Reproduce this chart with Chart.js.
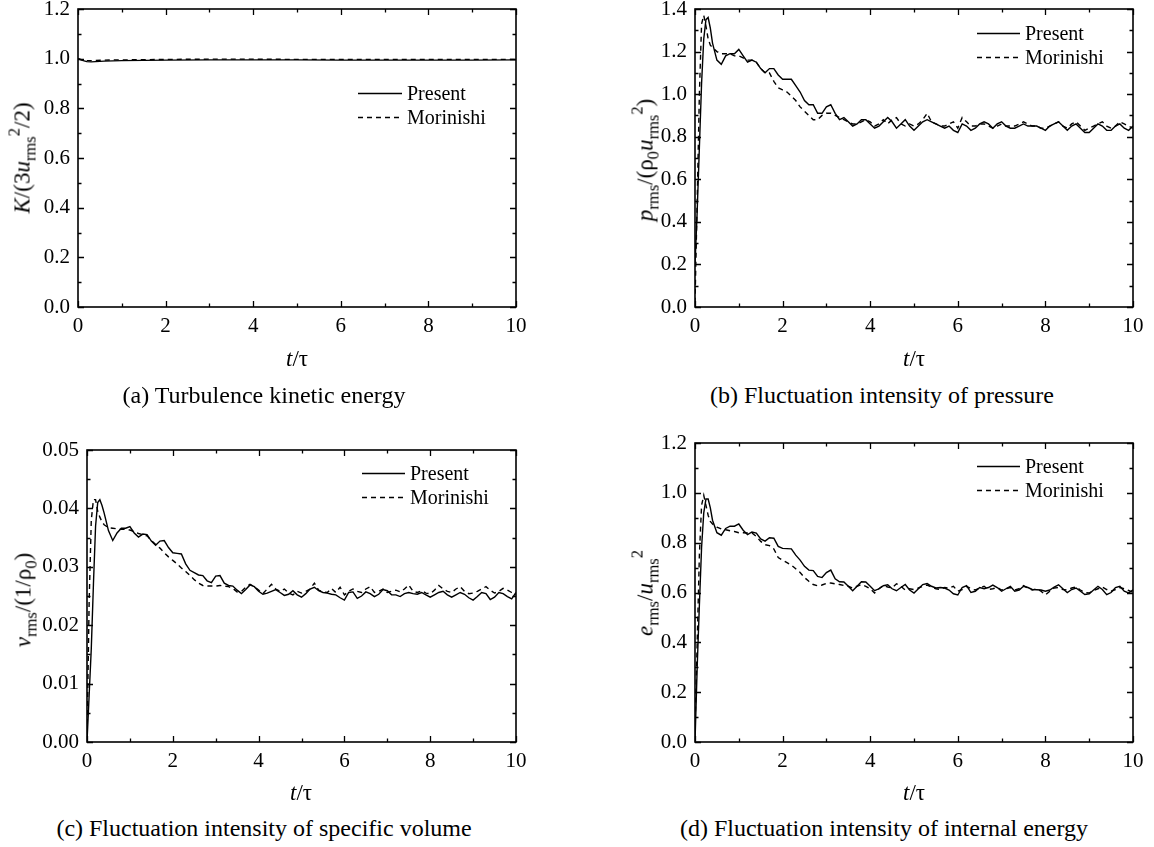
<!DOCTYPE html>
<html>
<head>
<meta charset="utf-8">
<script src="https://cdn.jsdelivr.net/npm/chart.js@4.4.1/dist/chart.umd.min.js"></script>
<style>
  html, body { margin: 0; padding: 0; background: #fff; }
  #page { position: relative; width: 1154px; height: 847px; overflow: hidden; background: #fff;
          font-family: 'Liberation Serif', 'Times New Roman', serif; color: #000; }
  #page canvas { position: absolute; }
  .lbl { position: absolute; white-space: nowrap; font-size: 23px; line-height: 1; transform: translate(-50%, -50%); }
  .lbl.rot { transform: translate(-50%, -50%) rotate(-90deg); }
  .lbl.cap { font-size: 24px; }
  .lbl sub { font-size: 0.72em; vertical-align: -0.35em; line-height: 0; }
  .lbl sup { font-size: 0.72em; vertical-align: 0.6em; line-height: 0; }
</style>
</head>
<body>
<div id="page"></div>
<script>
// time axis (t/tau) shared by panels b, c, d
const timeFine = [0, 0.05, 0.1, 0.15, 0.2, 0.25, 0.3, 0.35, 0.4,
  0.5, 0.6, 0.7, 0.8, 0.9, 1.0, 1.1, 1.2, 1.3, 1.4, 1.5, 1.6, 1.7, 1.8, 1.9,
  2.0, 2.1, 2.2, 2.3, 2.4, 2.5, 2.6, 2.7, 2.8, 2.9, 3.0, 3.1, 3.2, 3.3, 3.4, 3.5,
  3.6, 3.7, 3.8, 3.9, 4.0, 4.1, 4.2, 4.3, 4.4, 4.5, 4.6, 4.7, 4.8, 4.9, 5.0, 5.1,
  5.2, 5.3, 5.4, 5.5, 5.6, 5.7, 5.8, 5.9, 6.0, 6.1, 6.2, 6.3, 6.4, 6.5, 6.6, 6.7,
  6.8, 6.9, 7.0, 7.1, 7.2, 7.3, 7.4, 7.5, 7.6, 7.7, 7.8, 7.9, 8.0, 8.1, 8.2, 8.3,
  8.4, 8.5, 8.6, 8.7, 8.8, 8.9, 9.0, 9.1, 9.2, 9.3, 9.4, 9.5, 9.6, 9.7, 9.8, 9.9, 10.0];

// (a) turbulence kinetic energy
const timeA = [0, 0.1, 0.2, 0.3, 0.4, 0.6, 0.8, 1, 1.5, 2, 3, 4, 5, 6, 7, 8, 9, 10];
const kPresent = [1.0, 0.993, 0.988, 0.987, 0.988, 0.99, 0.991, 0.992, 0.993, 0.994, 0.995, 0.995, 0.995, 0.994, 0.994, 0.994, 0.994, 0.995];
const kMorinishi = [1.0, 0.995, 0.992, 0.992, 0.993, 0.994, 0.995, 0.995, 0.996, 0.997, 0.998, 0.998, 0.997, 0.997, 0.997, 0.997, 0.997, 0.997];

// (b) pressure
const pPresent = [0.20, 0.45, 0.75, 1.05, 1.26, 1.35, 1.36, 1.31, 1.24,
  1.16, 1.14, 1.18, 1.19, 1.19, 1.21, 1.18, 1.15, 1.16, 1.15, 1.12, 1.10, 1.12, 1.12, 1.09,
  1.07, 1.07, 1.07, 1.04, 1.01, 0.97, 0.95, 0.95, 0.91, 0.91, 0.94, 0.95, 0.91, 0.88, 0.89, 0.87,
  0.85, 0.86, 0.88, 0.88, 0.86, 0.84, 0.85, 0.87, 0.89, 0.87, 0.84, 0.86, 0.88, 0.85, 0.83, 0.85,
  0.87, 0.88, 0.87, 0.86, 0.85, 0.84, 0.85, 0.83, 0.82, 0.86, 0.85, 0.83, 0.84, 0.86, 0.87, 0.86,
  0.84, 0.86, 0.87, 0.85, 0.84, 0.84, 0.85, 0.86, 0.85, 0.85, 0.85, 0.84, 0.83, 0.85, 0.86, 0.87,
  0.85, 0.83, 0.85, 0.86, 0.84, 0.82, 0.82, 0.84, 0.86, 0.85, 0.83, 0.83, 0.85, 0.86, 0.84, 0.83, 0.85];
const pMorinishi = [0.02, 0.50, 1.00, 1.33, 1.37, 1.32, 1.26, 1.23, 1.22,
  1.20, 1.19, 1.19, 1.19, 1.18, 1.18, 1.17, 1.16, 1.16, 1.15, 1.12, 1.10, 1.10, 1.06, 1.03,
  1.02, 1.01, 0.99, 0.97, 0.94, 0.92, 0.90, 0.88, 0.88, 0.90, 0.91, 0.91, 0.90, 0.89, 0.88, 0.87,
  0.86, 0.86, 0.87, 0.88, 0.87, 0.85, 0.86, 0.88, 0.86, 0.88, 0.89, 0.86, 0.85, 0.86, 0.85, 0.86,
  0.88, 0.91, 0.87, 0.86, 0.85, 0.85, 0.86, 0.87, 0.84, 0.89, 0.87, 0.85, 0.85, 0.86, 0.86, 0.85,
  0.84, 0.85, 0.86, 0.85, 0.85, 0.85, 0.86, 0.87, 0.86, 0.85, 0.85, 0.84, 0.84, 0.85, 0.86, 0.87,
  0.85, 0.84, 0.86, 0.87, 0.85, 0.83, 0.84, 0.85, 0.86, 0.87, 0.85, 0.84, 0.85, 0.87, 0.86, 0.85, 0.84];

// (c) specific volume
const vPresent = [0.0, 0.008, 0.016, 0.027, 0.037, 0.041, 0.0415, 0.0405, 0.0392,
  0.0362, 0.0345, 0.0358, 0.0366, 0.0366, 0.0369, 0.0358, 0.0351, 0.0356, 0.0355, 0.0344, 0.0337, 0.0344, 0.0345, 0.0333,
  0.0324, 0.0323, 0.0322, 0.0305, 0.0294, 0.0290, 0.0286, 0.0285, 0.0276, 0.0273, 0.0284, 0.0285, 0.0272, 0.0268, 0.0267, 0.0260,
  0.0254, 0.0261, 0.0269, 0.0266, 0.0258, 0.0253, 0.0255, 0.0258, 0.0261, 0.0256, 0.0251, 0.0253, 0.0259, 0.0252, 0.0248, 0.0254,
  0.0262, 0.0265, 0.0259, 0.0256, 0.0255, 0.0253, 0.0252, 0.0247, 0.0243, 0.0256, 0.0257, 0.0246, 0.0250, 0.0257, 0.0254, 0.0249,
  0.0253, 0.0261, 0.0259, 0.0252, 0.0252, 0.0249, 0.0254, 0.0256, 0.0254, 0.0253, 0.0256, 0.0252, 0.0248, 0.0252, 0.0256, 0.0258,
  0.0252, 0.0248, 0.0252, 0.0256, 0.0253, 0.0247, 0.0243, 0.0249, 0.0256, 0.0254, 0.0244, 0.0248, 0.0256, 0.0254, 0.0249, 0.0245, 0.0256];
const vMorinishi = [0.0, 0.024, 0.038, 0.0415, 0.0415, 0.0395, 0.0385, 0.0377, 0.0372,
  0.0367, 0.0366, 0.0365, 0.0364, 0.0364, 0.0363, 0.0360, 0.0357, 0.0355, 0.0353, 0.0345, 0.0338, 0.0332, 0.0324, 0.0317,
  0.0311, 0.0305, 0.0298, 0.0292, 0.0285, 0.0278, 0.0272, 0.0268, 0.0267, 0.0267, 0.0267, 0.0268, 0.0267, 0.0266, 0.0263, 0.0257,
  0.0258, 0.0265, 0.0270, 0.0266, 0.0260, 0.0254, 0.0262, 0.0270, 0.0262, 0.0258, 0.0262, 0.0255, 0.0252, 0.0258, 0.0255, 0.0258,
  0.0262, 0.0272, 0.0260, 0.0257, 0.0256, 0.0263, 0.0256, 0.0265, 0.0252, 0.0258, 0.0262, 0.0258, 0.0256, 0.0262, 0.0266, 0.0256,
  0.0258, 0.0262, 0.0256, 0.0258, 0.0260, 0.0257, 0.0262, 0.0269, 0.0258, 0.0256, 0.0259, 0.0255, 0.0254, 0.0260, 0.0268, 0.0262,
  0.0258, 0.0256, 0.0262, 0.0266, 0.0258, 0.0254, 0.0255, 0.0258, 0.0262, 0.0266, 0.0260, 0.0255, 0.0258, 0.0263, 0.0260, 0.0256, 0.0252];

// (d) internal energy
const ePresent = [0.0, 0.30, 0.55, 0.78, 0.92, 0.975, 0.975, 0.94, 0.89,
  0.84, 0.83, 0.857, 0.866, 0.866, 0.875, 0.85, 0.832, 0.843, 0.838, 0.815, 0.806, 0.82, 0.818, 0.785,
  0.777, 0.776, 0.775, 0.75, 0.73, 0.705, 0.69, 0.688, 0.665, 0.66, 0.68, 0.69, 0.655, 0.643, 0.642, 0.625,
  0.607, 0.625, 0.643, 0.642, 0.625, 0.607, 0.615, 0.627, 0.631, 0.615, 0.607, 0.62, 0.632, 0.61, 0.598, 0.615,
  0.632, 0.636, 0.625, 0.618, 0.62, 0.618, 0.61, 0.595, 0.59, 0.62, 0.628, 0.60, 0.605, 0.62, 0.615, 0.62,
  0.63, 0.62, 0.605, 0.615, 0.625, 0.605, 0.61, 0.625, 0.62, 0.612, 0.611, 0.61, 0.605, 0.61, 0.622, 0.631,
  0.615, 0.60, 0.612, 0.618, 0.605, 0.592, 0.595, 0.61, 0.625, 0.612, 0.591, 0.60, 0.62, 0.625, 0.605, 0.598, 0.611];
const eMorinishi = [0.05, 0.40, 0.75, 0.95, 0.99, 0.95, 0.91, 0.885, 0.875,
  0.862, 0.855, 0.852, 0.848, 0.845, 0.84, 0.84, 0.839, 0.839, 0.825, 0.805, 0.792, 0.788, 0.775, 0.74,
  0.73, 0.72, 0.71, 0.695, 0.68, 0.66, 0.645, 0.632, 0.627, 0.63, 0.637, 0.638, 0.635, 0.632, 0.628, 0.625,
  0.618, 0.625, 0.632, 0.625, 0.615, 0.598, 0.615, 0.628, 0.622, 0.618, 0.635, 0.625, 0.61, 0.615, 0.612, 0.618,
  0.625, 0.63, 0.622, 0.615, 0.612, 0.62, 0.618, 0.625, 0.605, 0.612, 0.625, 0.615, 0.61, 0.618, 0.625, 0.612,
  0.615, 0.62, 0.61, 0.615, 0.62, 0.61, 0.615, 0.628, 0.618, 0.61, 0.615, 0.605, 0.59, 0.605, 0.618, 0.62,
  0.612, 0.61, 0.618, 0.622, 0.61, 0.60, 0.598, 0.608, 0.615, 0.622, 0.612, 0.605, 0.612, 0.62, 0.615, 0.608, 0.60];

const seriesNames = ['Present', 'Morinishi'];
const xTicks = [0, 2, 4, 6, 8, 10];
const xMinor = [1, 3, 5, 7, 9];
const yTicksA = [0, 0.2, 0.4, 0.6, 0.8, 1.0, 1.2];
const yMinorA = [0.1, 0.3, 0.5, 0.7, 0.9, 1.1];
const yTicksB = [0, 0.2, 0.4, 0.6, 0.8, 1.0, 1.2, 1.4];
const yMinorB = [0.1, 0.3, 0.5, 0.7, 0.9, 1.1, 1.3];
const yTicksC = [0, 0.01, 0.02, 0.03, 0.04, 0.05];
const yMinorC = [0.005, 0.015, 0.025, 0.035, 0.045];

const FONT = "'Liberation Serif', 'Times New Roman', serif";

// draws the box round the plot and the inward ticks on all four sides
const framePlugin = {
  id: 'frame',
  afterDraw(chart, args, o) {
    const { ctx, chartArea: a, scales: { x, y } } = chart;
    ctx.save();
    ctx.strokeStyle = '#000';
    ctx.lineWidth = 1.6;
    ctx.strokeRect(a.left, a.top, a.right - a.left, a.bottom - a.top);
    ctx.lineWidth = 1.3;
    ctx.beginPath();
    const xt = (v, len) => {
      const px = Math.round(x.getPixelForValue(v)) + 0.5;
      ctx.moveTo(px, a.bottom); ctx.lineTo(px, a.bottom - len);
      ctx.moveTo(px, a.top); ctx.lineTo(px, a.top + len);
    };
    const yt = (v, len) => {
      const py = Math.round(y.getPixelForValue(v)) + 0.5;
      ctx.moveTo(a.left, py); ctx.lineTo(a.left + len, py);
      ctx.moveTo(a.right, py); ctx.lineTo(a.right - len, py);
    };
    x.ticks.forEach(t => xt(t.value, 6));
    o.xMinor.forEach(v => xt(v, 3.5));
    y.ticks.forEach(t => yt(t.value, 6));
    o.yMinor.forEach(v => yt(v, 3.5));
    ctx.stroke();
    ctx.restore();
  }
};

// legend drawn inside the plot, line sample then label
const insideLegend = {
  id: 'insideLegend',
  afterDraw(chart, args, o) {
    const { ctx, chartArea: a } = chart;
    ctx.save();
    ctx.font = '20px ' + FONT;
    ctx.textBaseline = 'middle';
    ctx.fillStyle = '#000';
    ctx.strokeStyle = '#000';
    chart.data.datasets.forEach((ds, i) => {
      const y = Math.round(a.top + o.y + i * o.gap) + 0.5;
      ctx.beginPath();
      ctx.lineWidth = 1.3;
      ctx.setLineDash(ds.borderDash || []);
      ctx.moveTo(a.left + o.x, y);
      ctx.lineTo(a.left + o.x + o.len, y);
      ctx.stroke();
      ctx.setLineDash([]);
      ctx.fillText(ds.label, a.left + o.x + o.len + 5, y + 1);
    });
    ctx.restore();
  }
};

const panels = [
  { box: { l: 78, t: 9, r: 516, b: 307 }, time: timeA, series: [kPresent, kMorinishi],
    yTicks: yTicksA, yMinor: yMinorA, dec: 1, legend: { x: 280, y: 84, gap: 24, len: 44 },
    yTitle: '<i>K</i>/(3<i>u</i><sub>rms</sub><sup>2</sup>/2)', yTitlePos: [22, 158],
    xTitlePos: [297, 358], caption: '(a) Turbulence kinetic energy', capPos: [264, 395] },
  { box: { l: 695, t: 9, r: 1133, b: 307 }, time: timeFine, series: [pPresent, pMorinishi],
    yTicks: yTicksB, yMinor: yMinorB, dec: 1, legend: { x: 282, y: 24, gap: 24, len: 43 },
    yTitle: '<i>p</i><sub>rms</sub>/(ρ<sub>0</sub><i>u</i><sub>rms</sub><sup>2</sup>)', yTitlePos: [645, 160],
    xTitlePos: [914, 358], caption: '(b) Fluctuation intensity of pressure', capPos: [882, 395] },
  { box: { l: 87, t: 450, r: 516, b: 742 }, time: timeFine, series: [vPresent, vMorinishi],
    yTicks: yTicksC, yMinor: yMinorC, dec: 2, legend: { x: 275, y: 23, gap: 24, len: 43 },
    yTitle: '<i>v</i><sub>rms</sub>/(1/ρ<sub>0</sub>)', yTitlePos: [23, 600],
    xTitlePos: [301, 792], caption: '(c) Fluctuation intensity of specific volume', capPos: [264, 828] },
  { box: { l: 695, t: 443, r: 1133, b: 742 }, time: timeFine, series: [ePresent, eMorinishi],
    yTicks: yTicksA, yMinor: yMinorA, dec: 1, legend: { x: 282, y: 23, gap: 24, len: 43 },
    yTitle: '<i>e</i><sub>rms</sub>/<i>u</i><sub>rms</sub><sup>2</sup>', yTitlePos: [645, 593],
    xTitlePos: [914, 792], caption: '(d) Fluctuation intensity of internal energy', capPos: [884, 828] }
];

const page = document.getElementById('page');
const PAD = { l: 90, t: 30, r: 40, b: 50 };

function addLabel(html, pos, cls) {
  const d = document.createElement('div');
  d.className = 'lbl' + (cls ? ' ' + cls : '');
  d.innerHTML = html;
  d.style.left = pos[0] + 'px';
  d.style.top = pos[1] + 'px';
  page.appendChild(d);
}

panels.forEach(p => {
  const c = document.createElement('canvas');
  const w = p.box.r - p.box.l + PAD.l + PAD.r;
  const h = p.box.b - p.box.t + PAD.t + PAD.b;
  c.width = w; c.height = h;
  c.style.left = (p.box.l - PAD.l) + 'px';
  c.style.top = (p.box.t - PAD.t) + 'px';
  c.style.width = w + 'px'; c.style.height = h + 'px';
  page.appendChild(c);

  const yMin = p.yTicks[0], yMax = p.yTicks[p.yTicks.length - 1];
  new Chart(c.getContext('2d'), {
    type: 'line',
    data: {
      datasets: p.series.map((vals, i) => ({
        label: seriesNames[i],
        data: vals.map((v, k) => ({ x: p.time[k], y: v })),
        borderColor: '#000',
        borderWidth: 1.4,
        borderDash: i === 1 ? [5, 4] : [],
        pointRadius: 0,
        tension: 0,
        fill: false
      }))
    },
    options: {
      responsive: false,
      devicePixelRatio: 1,
      animation: false,
      layout: { padding: { left: 0, top: PAD.t, right: PAD.r, bottom: 0 } },
      plugins: {
        legend: { display: false },
        tooltip: { enabled: false },
        frame: { xMinor: xMinor, yMinor: p.yMinor },
        insideLegend: p.legend
      },
      scales: {
        x: {
          type: 'linear', min: 0, max: 10,
          afterBuildTicks: s => { s.ticks = xTicks.map(v => ({ value: v })); },
          afterFit: s => { s.height = PAD.b; },
          grid: { display: false, drawTicks: false },
          border: { display: false },
          ticks: { color: '#000', font: { family: FONT, size: 21 }, padding: 7, maxRotation: 0, autoSkip: false,
                   callback: v => String(v) }
        },
        y: {
          type: 'linear', min: yMin, max: yMax,
          afterBuildTicks: s => { s.ticks = p.yTicks.map(v => ({ value: v })); },
          afterFit: s => { s.width = PAD.l; },
          grid: { display: false, drawTicks: false },
          border: { display: false },
          ticks: { color: '#000', font: { family: FONT, size: 21 }, padding: 8, autoSkip: false,
                   callback: v => Number(v).toFixed(p.dec) }
        }
      }
    },
    plugins: [framePlugin, insideLegend]
  });

  addLabel(p.yTitle, p.yTitlePos, 'rot');
  addLabel('<i>t</i>/τ', p.xTitlePos, '');
  addLabel(p.caption, p.capPos, 'cap');
});
</script>
</body>
</html>
